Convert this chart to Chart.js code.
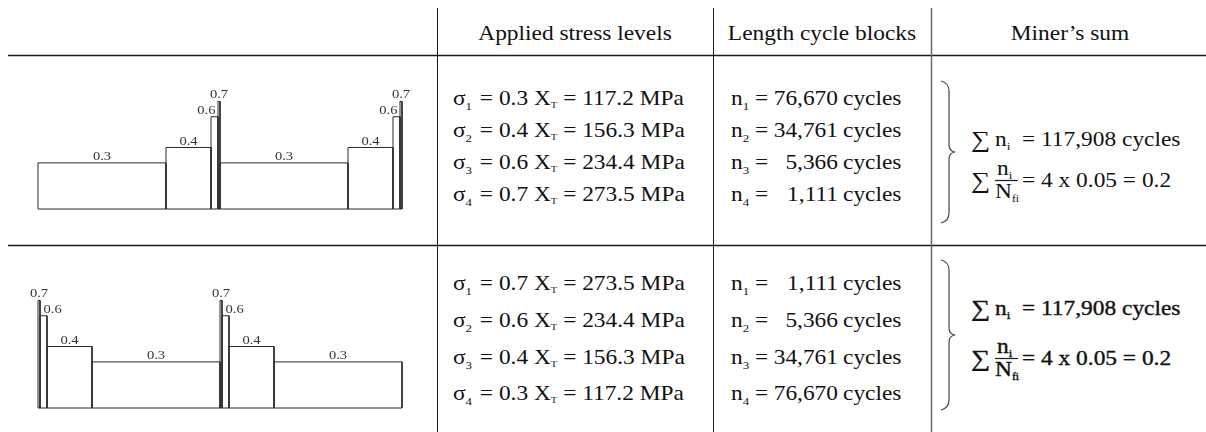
<!DOCTYPE html>
<html>
<head>
<meta charset="utf-8">
<script src="https://cdn.jsdelivr.net/npm/chart.js@4.4.1/dist/chart.umd.min.js"></script>
<style>
  html, body { margin: 0; padding: 0; background: #fff; }
  #page { position: relative; width: 1206px; height: 432px; overflow: hidden; background: #fff; }
  #table { position: absolute; left: 0; top: 0; }
  .diagram { position: absolute; }
  text { font-family: "Liberation Serif", "Times New Roman", Tinos, serif; fill: #111; }
</style>
</head>
<body>
<div id="page">
  <svg id="table" width="1206" height="432" xmlns="http://www.w3.org/2000/svg"></svg>
  <canvas id="ascending" class="diagram"></canvas>
  <canvas id="descending" class="diagram"></canvas>
</div>
<script>
// Stress levels as fractions of the tensile strength X_T (low-high sequence)
const stressLevels = [0.3, 0.4, 0.6, 0.7];
// Stress amplitudes in MPa for each level
const stressMPa = [117.2, 156.3, 234.4, 273.5];
// Cycles applied in each block
const blockCycles = [76670, 34761, 5366, 1111];
// Drawn length of each block in the loading sketch (schematic, not to scale)
const blockLength = [128, 45, 7, 2];
// Number of times the block sequence is repeated in the sketch
const sequenceRepeats = 2;
// Miner's sum figures
const totalCycles = 117908;
const damagePerBlock = 0.05;
const blockCount = 4;
// Column headings
const headings = ["Applied stress levels", "Length cycle blocks", "Miner\u2019s sum"];

const fmt = n => n.toLocaleString("en-US");

// ---------- loading sketches (Chart.js) ----------
function buildDatasets(levels, lengths) {
  const sets = [];
  let x0 = 0;
  for (let r = 0; r < sequenceRepeats; r++) {
    levels.forEach((lv, i) => {
      const len = lengths[i];
      sets.push({
        data: [
          { x: x0, y: 0 }, { x: x0, y: lv }, { x: x0 + len, y: lv },
          { x: x0 + len, y: 0 }, { x: x0, y: 0 }
        ],
        level: lv,
        span: len,
        prevLevel: i > 0 ? levels[i - 1] : null,
        borderColor: "#2b2b2b",
        borderWidth: 1,
        pointRadius: 0,
        tension: 0,
        fill: false
      });
      x0 += len;
    });
  }
  return sets;
}

const levelLabels = {
  id: "levelLabels",
  afterDatasetsDraw(chart) {
    const { ctx, scales } = chart;
    const maxLevel = Math.max(...stressLevels);
    ctx.save();
    ctx.fillStyle = "#333";
    ctx.font = "13px 'Liberation Serif', 'Times New Roman', serif";
    ctx.textBaseline = "alphabetic";
    chart.data.datasets.forEach(ds => {
      const left = scales.x.getPixelForValue(ds.data[0].x);
      const right = scales.x.getPixelForValue(ds.data[2].x);
      const top = scales.y.getPixelForValue(ds.level);
      const centre = (left + right) / 2;
      let align = "center", ax = centre;
      if (ds.span < 20 && ds.level !== maxLevel) {
        // narrow block: the label leans toward its lower neighbour
        if (ds.prevLevel !== null && ds.prevLevel < ds.level) { align = "right"; ax = centre + 1; }
        else { align = "left"; ax = centre; }
      }
      ctx.save();
      ctx.translate(ax, top - 3);
      ctx.scale(1.12, 1);
      ctx.textAlign = align;
      ctx.fillText(ds.level.toFixed(1), 0, 0);
      ctx.restore();
    });
    ctx.restore();
  }
};

function makeSketch(id, levels, lengths, baseline) {
  const pad = { left: 20, right: 20, top: 24, bottom: 4 };
  const areaH = 123;
  const totalLen = lengths.reduce((a, b) => a + b, 0) * sequenceRepeats;
  const canvas = document.getElementById(id);
  canvas.width = totalLen + pad.left + pad.right;
  canvas.height = areaH + pad.top + pad.bottom;
  canvas.style.left = (38 - pad.left) + "px";
  canvas.style.top = (baseline - areaH - pad.top) + "px";
  return new Chart(canvas, {
    type: "line",
    data: { datasets: buildDatasets(levels, lengths) },
    options: {
      responsive: false,
      devicePixelRatio: 1,
      animation: false,
      layout: { padding: pad },
      plugins: { legend: { display: false }, tooltip: { enabled: false } },
      scales: {
        x: { type: "linear", min: 0, max: totalLen, display: false },
        y: { type: "linear", min: 0, max: 0.8, display: false }
      },
      elements: { line: { borderCapStyle: "butt", borderJoinStyle: "miter" } },
      clip: false
    },
    plugins: [levelLabels]
  });
}

makeSketch("ascending", stressLevels, blockLength, 209);
makeSketch("descending", stressLevels.slice().reverse(), blockLength.slice().reverse(), 408);

// ---------- table ----------
const svg = document.getElementById("table");
let out = "";
const SX = 1.17;
function txt(x, y, body, anchor = "start", size = 20, extra = "") {
  out += `<text transform="translate(${x},${y}) scale(${SX},1)" text-anchor="${anchor}" font-size="${size}" ${extra}>${body}</text>`;
}
// subscript followed by the rest of the text back on the baseline
const sub = (s, rest = "", size = 11, drop = 5) =>
  `<tspan font-size="${size}" dy="${drop}">${s}</tspan><tspan dy="${-drop}">${rest === "" ? "\u200A" : rest}</tspan>`;

// rules
out += `<line x1="8" y1="55.5" x2="1206" y2="55.5" stroke="#1a1a1a" stroke-width="1.3"/>`;
out += `<line x1="8" y1="245.5" x2="1206" y2="245.5" stroke="#1a1a1a" stroke-width="1.3"/>`;
out += `<line x1="437.5" y1="8" x2="437.5" y2="432" stroke="#1a1a1a" stroke-width="1"/>`;
out += `<line x1="713.5" y1="8" x2="713.5" y2="432" stroke="#1a1a1a" stroke-width="1"/>`;
out += `<line x1="931.5" y1="8" x2="931.5" y2="432" stroke="#6a6a6a" stroke-width="1.5"/>`;

// headings
txt(575, 40, headings[0], "middle");
txt(822, 40, headings[1], "middle");
txt(1070, 40, headings[2], "middle");

function rowBlock(order, rowYs, braceTop, braceBottom, sumY, fracY, extra) {
  order.forEach((k, i) => {
    const y = rowYs[i];
    const mpa = sub("T", ` = ${stressMPa[k].toFixed(1)} MPa`, 9, 3);
    txt(453, y, `\u03C3` + sub(i + 1, `\u200A = ${stressLevels[k].toFixed(1)} X` + mpa));
    txt(731, y, `n` + sub(i + 1, " ="));
    txt(838, y, fmt(blockCycles[k]), "end");
    txt(843, y, "cycles");
  });
  // brace
  const xm = 949, xe = 941, xt = 955, ym = (braceTop + braceBottom) / 2;
  out += `<path d="M ${xe} ${braceTop} Q ${xm} ${braceTop + 2} ${xm} ${braceTop + 10} L ${xm} ${ym - 7} Q ${xm} ${ym - 1} ${xt} ${ym} Q ${xm} ${ym + 1} ${xm} ${ym + 7} L ${xm} ${braceBottom - 10} Q ${xm} ${braceBottom - 2} ${xe} ${braceBottom}" fill="none" stroke="#444" stroke-width="1.2"/>`;
  // Miner's sum
  txt(971, sumY + 1, "\u2211", "start", 23, extra);
  txt(995, sumY, `n` + sub("i", "", 11, 4), "start", 20, extra);
  txt(1022, sumY, `= ${fmt(totalCycles)} cycles`, "start", 20, extra);
  txt(971, fracY + 8, "\u2211", "start", 23, extra);
  txt(997, fracY - 5, `n` + sub("i", "", 11, 4), "start", 20, extra);
  out += `<line x1="995" y1="${fracY + 0.5}" x2="1018" y2="${fracY + 0.5}" stroke="#1a1a1a" stroke-width="1.2"/>`;
  txt(995, fracY + 18, `N` + sub("fi", "", 10, 4), "start", 20, extra);
  txt(1022, fracY + 7, `= ${blockCount} x ${damagePerBlock.toFixed(2)} = ${(blockCount * damagePerBlock).toFixed(1)}`, "start", 20, extra);
}

rowBlock([0, 1, 2, 3], [105, 137, 169, 201], 81, 223, 146, 180, "");
rowBlock([3, 2, 1, 0], [290, 327, 364, 400], 260, 410, 315, 358, 'stroke="#111" stroke-width="0.35"');

svg.innerHTML = out;
</script>
</body>
</html>
